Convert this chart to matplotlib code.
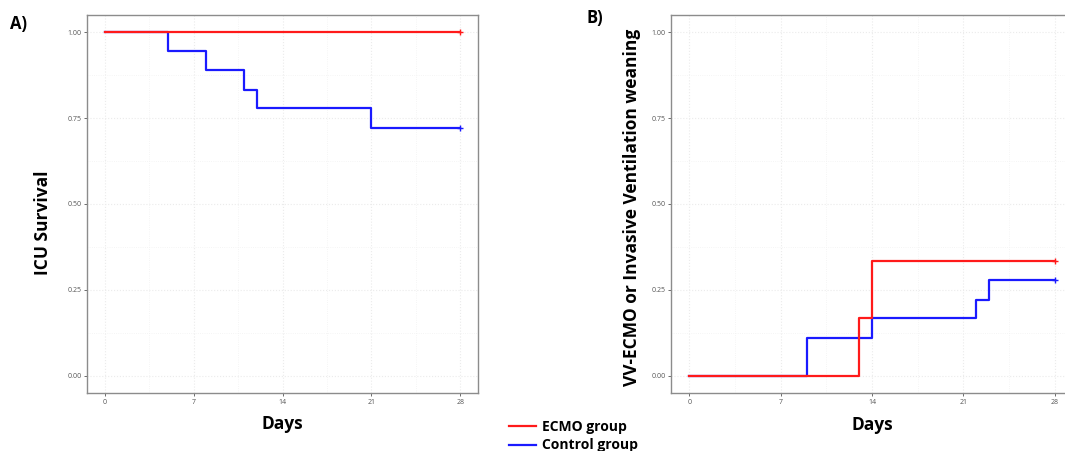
"""
Kaplan-Meier curves: ICU survival (A) and VV-ECMO / IMV weaning (B).
"""
import matplotlib
matplotlib.use("Agg")
import matplotlib.pyplot as plt
from matplotlib.lines import Line2D

# ── data ──
group_names = ["ECMO group", "Control group"]
group_colors = ["#ff1a1a", "#1a1aff"]

surv_days_ecmo = [0, 28]
surv_ecmo = [1.0, 1.0]
surv_days_ctrl = [0, 5, 8, 11, 12, 21, 28]
surv_ctrl = [1.0, 0.944, 0.889, 0.833, 0.778, 0.722, 0.722]

wean_days_ecmo = [0, 13, 14, 28]
wean_ecmo = [0.0, 0.167, 0.333, 0.333]
wean_days_ctrl = [0, 9, 14, 22, 23, 28]
wean_ctrl = [0.0, 0.111, 0.167, 0.222, 0.278, 0.278]

x_ticks = [0, 7, 14, 21, 28]
y_ticks = [0.0, 0.25, 0.5, 0.75, 1.0]
y_tick_labels = ["0.00", "0.25", "0.50", "0.75", "1.00"]

FONT = ["Open Sans", "DejaVu Sans"]
plt.rcParams["font.family"] = FONT

W, H = 1065, 451
fig = plt.figure(figsize=(W / 100, H / 100), dpi=100)


def px_axes(left, top, right, bottom):
    return fig.add_axes([left / W, 1 - bottom / H, (right - left) / W, (bottom - top) / H])


def style_km(ax, ylabel, ysize):
    ax.set_xlim(-1.4, 29.4)
    ax.set_ylim(-0.05, 1.05)
    ax.set_xticks(x_ticks)
    ax.set_yticks(y_ticks)
    ax.set_yticklabels(y_tick_labels)
    ax.set_xticks([3.5, 10.5, 17.5, 24.5], minor=True)
    ax.set_yticks([0.125, 0.375, 0.625, 0.875], minor=True)
    ax.grid(True, which="major", color="#ebebeb", linestyle=":", linewidth=0.8)
    ax.grid(True, which="minor", color="#f2f2f2", linestyle=":", linewidth=0.6)
    ax.tick_params(which="major", length=2, width=0.6, color="#555555",
                   labelsize=5, labelcolor="#555555", pad=2)
    ax.tick_params(which="minor", length=0)
    for sp in ax.spines.values():
        sp.set_color("#8c8c8c")
        sp.set_linewidth(1.0)
    ax.set_axisbelow(True)
    ax.set_xlabel("Days", fontsize=12.5, fontweight="bold")
    ax.set_ylabel(ylabel, fontsize=ysize, fontweight="bold")


def km_line(ax, days, vals, color):
    ax.step(days, vals, where="post", color=color, linewidth=1.6)
    ax.plot(days[-1], vals[-1], marker="+", color=color, markersize=4, markeredgewidth=1)


# panel A
ax1 = px_axes(87, 15, 478, 393)
km_line(ax1, surv_days_ctrl, surv_ctrl, group_colors[1])
km_line(ax1, surv_days_ecmo, surv_ecmo, group_colors[0])
style_km(ax1, "ICU Survival", 12.5)
ax1.yaxis.set_label_coords(-0.09, 0.45)
ax1.xaxis.set_label_coords(0.5, -0.058)

# panel B
ax2 = px_axes(671, 15, 1073, 393)
km_line(ax2, wean_days_ctrl, wean_ctrl, group_colors[1])
km_line(ax2, wean_days_ecmo, wean_ecmo, group_colors[0])
style_km(ax2, "VV-ECMO or Invasive Ventilation weaning", 12.5)
ax2.yaxis.set_label_coords(-0.075, 0.49)
ax2.xaxis.set_label_coords(0.5, -0.06)

fig.text(10 / W, 1 - 24 / H, "A)", fontsize=12, fontweight="bold", va="center")
fig.text(586 / W, 1 - 18 / H, "B)", fontsize=12, fontweight="bold", va="center")

handles = [Line2D([], [], color=c, linewidth=1.6) for c in group_colors]
fig.legend(handles, group_names, loc="upper left", bbox_to_anchor=(503 / W, 1 - 414 / H),
           frameon=False, prop={"weight": "bold", "size": 10}, handlelength=2.0,
           handletextpad=0.4, labelspacing=0.35, borderaxespad=0)

fig.savefig("out.png", dpi=100)
